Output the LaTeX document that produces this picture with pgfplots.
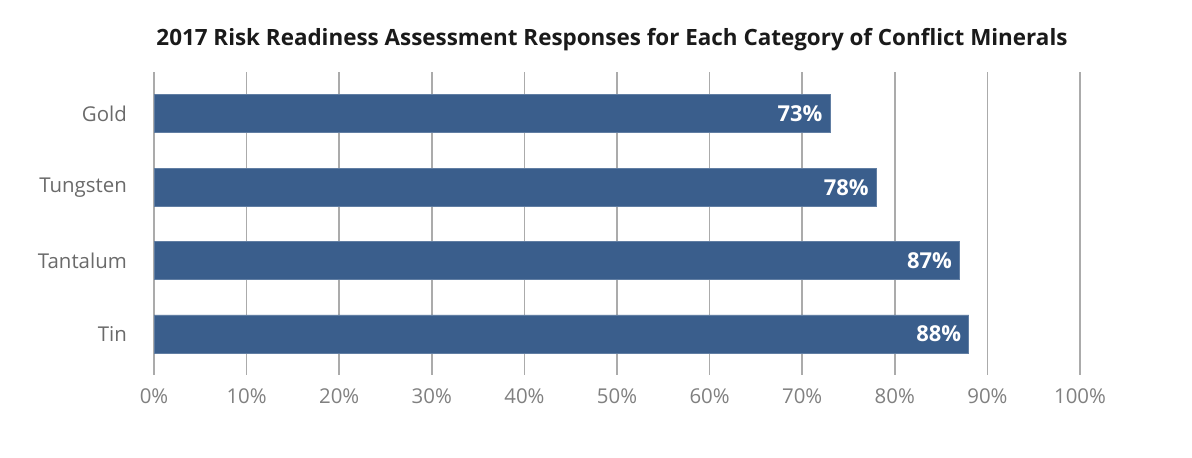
\documentclass[border=0pt]{standalone}
\usepackage{fontspec}
\setmainfont{Open Sans}
\usepackage{pgfplots}
\pgfplotsset{compat=1.18}
\definecolor{barblue}{HTML}{3A5E8C}
\definecolor{gridgray}{HTML}{ABABAB}
\definecolor{ticktext}{HTML}{808080}
\definecolor{cattext}{HTML}{6A6A6A}
\definecolor{titletext}{HTML}{1A1A1A}
\begin{document}
\begin{tikzpicture}
\path[use as bounding box] (0,0) rectangle (1192bp,458bp);
\begin{axis}[
  at={(154bp,83bp)}, anchor=south west,
  scale only axis, width=926bp, height=303bp,
  xmin=0, xmax=100, ymin=-0.56, ymax=3.57,
  xbar, bar width=38bp,
  axis line style={draw=none},
  major tick length=0pt,
  xtick={0,10,...,100},
  xmajorgrids, grid style={gridgray, line width=1.6bp},
  /pgf/number format/assume math mode=true,
  xticklabel={\pgfmathprintnumber{\tick}\%},
  xticklabel style={font=\fontsize{20.5}{22}\selectfont, text=ticktext, yshift=-10bp},
  ytick={0,1,2,3},
  yticklabels={Tin,Tantalum,Tungsten,Gold},
  yticklabel style={font=\fontsize{20.5}{22}\selectfont, text=cattext, inner sep=0pt, xshift=-27bp},
  title={2017 Risk Readiness Assessment Responses for Each Category of Conflict Minerals},
  title style={at={(0.5,1)}, anchor=base, yshift=21bp, xshift=-5bp, font=\bfseries\fontsize{22.5}{24}\selectfont, text=titletext},
  point meta=x,
  nodes near coords={\pgfmathprintnumber{\pgfplotspointmeta}\%},
  nodes near coords style={anchor=east, text=white, font=\bfseries\fontsize{22}{24}\selectfont, xshift=-4bp},
  clip=false,
]
\addplot[fill=barblue, draw=barblue!80!white, line width=0.8bp] coordinates {(88,0) (87,1) (78,2) (73,3)};
\end{axis}
\end{tikzpicture}
\end{document}
